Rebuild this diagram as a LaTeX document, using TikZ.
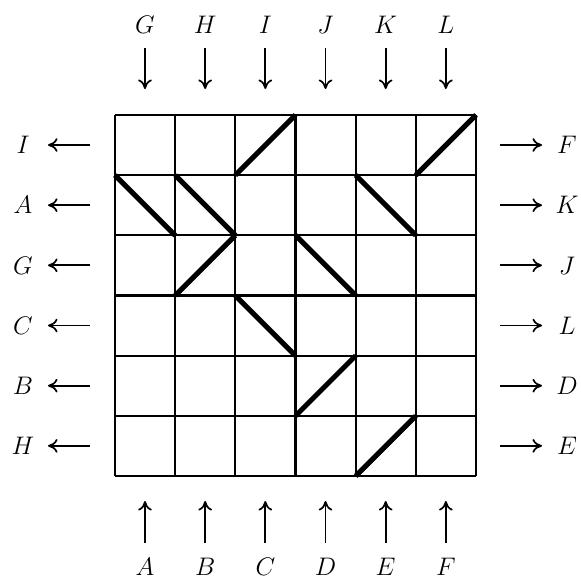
\documentclass[tikz,border=0pt]{standalone}
\usetikzlibrary{arrows.meta}
\begin{document}
\begin{tikzpicture}[x=0.4726pt,y=-0.4726pt,
  gridline/.style={line width=1pt},
  mirror/.style={line width=2.4pt},
  lbl/.style={inner sep=0pt,font=\fontsize{12.4}{15}\selectfont},
  arr/.style={line width=0.8pt,-{Computer Modern Rightarrow[length=4.5pt,width=6.5pt]}}]
\useasboundingbox (0,0) rectangle (581,578);
% grid
\foreach \i in {0,...,6} {
  \draw[gridline] ({115+60.17*\i},115) -- ({115+60.17*\i},476);
  \draw[gridline] (115,{115+60.17*\i}) -- (476,{115+60.17*\i});
}
% mirrors
\draw[mirror] ({115+60.17*2},{115+60.17*1}) -- ({115+60.17*3},{115+60.17*0});
\draw[mirror] ({115+60.17*5},{115+60.17*1}) -- ({115+60.17*6},{115+60.17*0});
\draw[mirror] ({115+60.17*0},{115+60.17*1}) -- ({115+60.17*1},{115+60.17*2});
\draw[mirror] ({115+60.17*1},{115+60.17*1}) -- ({115+60.17*2},{115+60.17*2});
\draw[mirror] ({115+60.17*4},{115+60.17*1}) -- ({115+60.17*5},{115+60.17*2});
\draw[mirror] ({115+60.17*1},{115+60.17*3}) -- ({115+60.17*2},{115+60.17*2});
\draw[mirror] ({115+60.17*3},{115+60.17*2}) -- ({115+60.17*4},{115+60.17*3});
\draw[mirror] ({115+60.17*2},{115+60.17*3}) -- ({115+60.17*3},{115+60.17*4});
\draw[mirror] ({115+60.17*3},{115+60.17*5}) -- ({115+60.17*4},{115+60.17*4});
\draw[mirror] ({115+60.17*4},{115+60.17*6}) -- ({115+60.17*5},{115+60.17*5});
% top
\foreach \l [count=\k from 0] in {G,H,I,J,K,L} {
  \node[lbl] (t\k) at ({145+60.17*\k},25) {$\l$};
  \coordinate (ts\k) at ({145+60.17*\k},48);
  \coordinate (te\k) at ({145+60.17*\k},89);
  \draw[arr] (ts\k) -- (te\k);
}
% bottom
\foreach \l [count=\k from 0] in {A,B,C,D,E,F} {
  \node[lbl] (b\k) at ({145+60.17*\k},567) {$\l$};
  \coordinate (bs\k) at ({145+60.17*\k},543);
  \coordinate (be\k) at ({145+60.17*\k},501);
  \draw[arr] (bs\k) -- (be\k);
}
% left
\foreach \l [count=\k from 0] in {I,A,G,C,B,H} {
  \node[lbl] (l\k) at (23,{145+60.17*\k}) {$\l$};
  \coordinate (ls\k) at (90,{145+60.17*\k});
  \coordinate (le\k) at (48,{145+60.17*\k});
  \draw[arr] (ls\k) -- (le\k);
}
% right
\foreach \l [count=\k from 0] in {F,K,J,L,D,E} {
  \node[lbl] (r\k) at (567,{145+60.17*\k}) {$\l$};
  \coordinate (rs\k) at (500,{145+60.17*\k});
  \coordinate (re\k) at (542,{145+60.17*\k});
  \draw[arr] (rs\k) -- (re\k);
}
\end{tikzpicture}
\end{document}
